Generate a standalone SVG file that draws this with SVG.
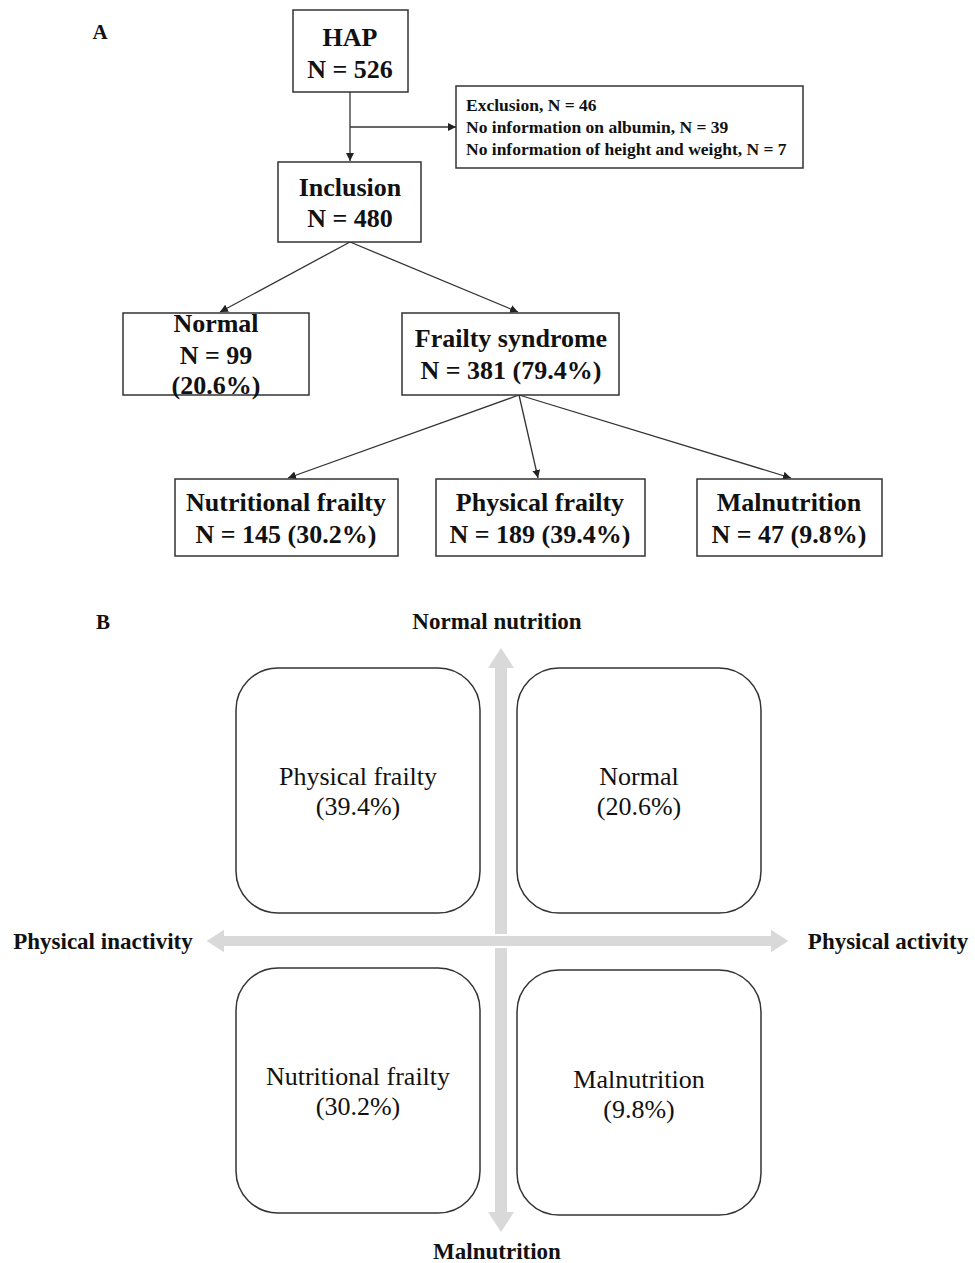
<svg xmlns="http://www.w3.org/2000/svg" width="975" height="1263" viewBox="0 0 975 1263">
<defs>
<style>
.box{fill:#fff;stroke:#333;stroke-width:1.5}
.rbox{fill:#fff;stroke:#333;stroke-width:1.5}
.t{font-family:"Liberation Serif","Times New Roman",serif;fill:#111;text-anchor:middle}
.b{font-weight:bold}
.big{font-size:26px}
.sm{font-size:17.5px;text-anchor:start}
.q{font-size:26px}
.ax{font-size:23px}
.ln{stroke:#333;stroke-width:1.3;fill:none}
.arr{fill:#d9d9d9}
</style>
<marker id="ah" viewBox="0 0 10 10" refX="10" refY="5" markerWidth="8" markerHeight="8" markerUnits="userSpaceOnUse" orient="auto">
<path d="M0,0 L10,5 L0,10 z" fill="#222"/>
</marker>
</defs>
<rect width="975" height="1263" fill="#fff"/>
<text class="t b" x="100" y="39" font-size="21">A</text>
<text class="t b" x="103" y="629" font-size="21">B</text>

<g id="connectors">
<line class="ln" x1="350" y1="92" x2="350" y2="161" marker-end="url(#ah)"/>
<line class="ln" x1="350" y1="127" x2="456" y2="127" marker-end="url(#ah)"/>
<line class="ln" x1="350" y1="242" x2="220" y2="312" marker-end="url(#ah)"/>
<line class="ln" x1="350" y1="242" x2="518" y2="312" marker-end="url(#ah)"/>
<line class="ln" x1="519" y1="395" x2="288" y2="478" marker-end="url(#ah)"/>
<line class="ln" x1="519" y1="395" x2="538" y2="478" marker-end="url(#ah)"/>
<line class="ln" x1="519" y1="395" x2="791" y2="478" marker-end="url(#ah)"/>
</g>

<g id="hap"><rect class="box" x="293" y="10" width="115" height="82"/>
<text class="t b big" x="350" y="46">HAP</text><text class="t b big" x="350" y="78">N = 526</text></g>
<g id="exclusion"><rect class="box" x="456" y="86" width="347" height="82"/>
<text class="t b sm" x="466" y="111">Exclusion, N = 46</text>
<text class="t b sm" x="466" y="133">No information on albumin, N = 39</text>
<text class="t b sm" x="466" y="155">No information of height and weight, N = 7</text></g>
<g id="inclusion"><rect class="box" x="278" y="162" width="143" height="80"/>
<text class="t b big" x="350" y="196">Inclusion</text><text class="t b big" x="350" y="227">N = 480</text></g>
<g id="normal"><rect class="box" x="123" y="313" width="186" height="82"/>
<text class="t b big" x="216" y="332">Normal</text><text class="t b big" x="216" y="364">N = 99</text><text class="t b big" x="216" y="394">(20.6%)</text></g>
<g id="frailty"><rect class="box" x="402" y="313" width="217" height="82"/>
<text class="t b big" x="511" y="347">Frailty syndrome</text><text class="t b big" x="511" y="379">N = 381 (79.4%)</text></g>
<g id="nutritional"><rect class="box" x="175" y="479" width="223" height="77"/>
<text class="t b big" x="286" y="511">Nutritional frailty</text><text class="t b big" x="286" y="543">N = 145 (30.2%)</text></g>
<g id="physical"><rect class="box" x="436" y="479" width="209" height="77"/>
<text class="t b big" x="540" y="511">Physical frailty</text><text class="t b big" x="540" y="543">N = 189 (39.4%)</text></g>
<g id="malnutrition"><rect class="box" x="697" y="479" width="185" height="77"/>
<text class="t b big" x="789" y="511">Malnutrition</text><text class="t b big" x="789" y="543">N = 47 (9.8%)</text></g>

<g id="axes">
<path class="arr" d="M495,1212 L495,668 L488,668 L501,648 L514,668 L507,668 L507,1212 L514,1212 L501,1232 L488,1212 Z"/>
<path class="arr" d="M225,935 L770,935 L770,928 L790,941 L770,954 L770,947 L225,947 L225,954 L205,941 L225,928 Z" stroke="#fff" stroke-width="2"/>
</g>
<text class="t b ax" x="497" y="629">Normal nutrition</text>
<text class="t b ax" x="103" y="949">Physical inactivity</text>
<text class="t b ax" x="888" y="949">Physical activity</text>
<text class="t b ax" x="497" y="1259">Malnutrition</text>

<g id="q-physical"><rect class="rbox" x="236" y="668" width="244" height="245" rx="42"/>
<text class="t q" x="358" y="785">Physical frailty</text><text class="t q" x="358" y="815">(39.4%)</text></g>
<g id="q-normal"><rect class="rbox" x="517" y="668" width="244" height="245" rx="42"/>
<text class="t q" x="639" y="785">Normal</text><text class="t q" x="639" y="815">(20.6%)</text></g>
<g id="q-nutritional"><rect class="rbox" x="236" y="968" width="244" height="245" rx="42"/>
<text class="t q" x="358" y="1085">Nutritional frailty</text><text class="t q" x="358" y="1115">(30.2%)</text></g>
<g id="q-malnutrition"><rect class="rbox" x="517" y="970" width="244" height="245" rx="42"/>
<text class="t q" x="639" y="1088">Malnutrition</text><text class="t q" x="639" y="1118">(9.8%)</text></g>
</svg>
